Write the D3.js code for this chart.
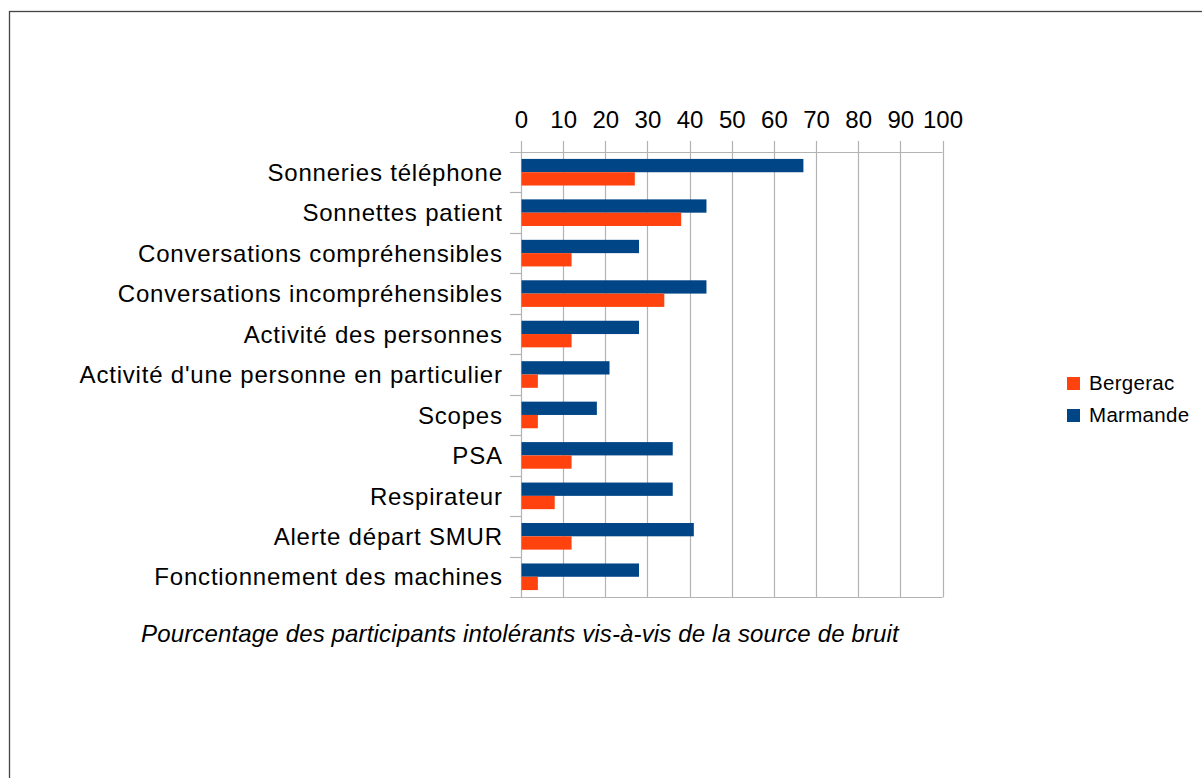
<!DOCTYPE html>
<html>
<head>
<meta charset="utf-8">
<script src="https://cdn.jsdelivr.net/npm/d3@7"></script>
<style>
  html, body { margin: 0; padding: 0; background: #fff; }
  svg { display: block; font-family: "Liberation Sans", Arial, sans-serif; }
</style>
</head>
<body>
<svg id="chart" width="1202" height="778"></svg>
<script>
const categories = [
  "Sonneries téléphone",
  "Sonnettes patient",
  "Conversations compréhensibles",
  "Conversations incompréhensibles",
  "Activité des personnes",
  "Activité d'une personne en particulier",
  "Scopes",
  "PSA",
  "Respirateur",
  "Alerte départ SMUR",
  "Fonctionnement des machines"
];
const marmande = [67, 44, 28, 44, 28, 21, 18, 36, 36, 41, 28];
const bergerac = [27, 38, 12, 34, 12, 4, 4, 12, 8, 12, 4];
const seriesNames = ["Marmande", "Bergerac"];
const legendNames = ["Bergerac", "Marmande"];
const tickValues = [0, 10, 20, 30, 40, 50, 60, 70, 80, 90, 100];
const subtitle = "Pourcentage des participants intolérants vis-à-vis de la source de bruit";

const colors = { "Marmande": "#004586", "Bergerac": "#ff420e" };
const gridColor = "#b3b3b3";

const svg = d3.select("#chart");

// outer frame
svg.append("rect")
  .attr("x", 9.5).attr("y", 11.5)
  .attr("width", 1250).attr("height", 900)
  .attr("fill", "none").attr("stroke", "#444").attr("stroke-width", 1.3);

const x = d3.scaleLinear().domain([0, 100]).range([521, 942.5]);
const y = d3.scaleBand().domain(categories).range([152, 597]).padding(0);
const ySub = d3.scaleBand().domain(seriesNames).range([0, y.bandwidth()])
  .paddingInner(0).paddingOuter(0.52);

const data = categories.map((c, i) => ({ cat: c, Marmande: marmande[i], Bergerac: bergerac[i] }));

// vertical gridlines (with tick extension above)
svg.append("g").selectAll("line").data(tickValues).join("line")
  .attr("x1", d => Math.round(x(d)) + 0.5).attr("x2", d => Math.round(x(d)) + 0.5)
  .attr("y1", 141).attr("y2", 597.5)
  .attr("stroke", gridColor).attr("stroke-width", 1.2);

// horizontal category boundary ticks + top/bottom lines
const boundaries = categories.map(c => y(c)).concat([y.range()[1]]);
svg.append("g").selectAll("line").data(boundaries).join("line")
  .attr("x1", 510).attr("x2", (d, i) => (i === 0 || i === boundaries.length - 1) ? 942.5 : 521)
  .attr("y1", d => Math.round(d) + 0.5).attr("y2", d => Math.round(d) + 0.5)
  .attr("stroke", gridColor).attr("stroke-width", 1.2);

// bars
const groups = svg.append("g").selectAll("g").data(data).join("g")
  .attr("transform", d => `translate(0,${y(d.cat)})`);
groups.selectAll("rect").data(d => seriesNames.map(s => ({ s, v: d[s] }))).join("rect")
  .attr("x", x(0) + 0.5)
  .attr("y", d => ySub(d.s))
  .attr("width", d => x(d.v) - x(0) - 0.5)
  .attr("height", ySub.bandwidth())
  .attr("fill", d => colors[d.s]);

// top axis tick labels
const xAxis = d3.axisTop(x).tickValues(tickValues).tickSize(0).tickPadding(0);
const gx = svg.append("g").attr("transform", "translate(0,128)").call(xAxis);
gx.select(".domain").remove();
gx.selectAll("text")
  .attr("dy", 0).attr("y", 0)
  .attr("font-family", "'Liberation Sans', Arial, sans-serif")
  .attr("font-size", 24).attr("fill", "#000");

// category labels
const yAxis = d3.axisLeft(y).tickSize(0).tickPadding(0);
const gy = svg.append("g").attr("transform", "translate(502.8,0)").call(yAxis);
gy.select(".domain").remove();
gy.selectAll("text")
  .attr("dy", "0.36em")
  .attr("font-family", "'Liberation Sans', Arial, sans-serif")
  .attr("font-size", 24).attr("letter-spacing", 0.8).attr("fill", "#000");

// subtitle
svg.append("text")
  .attr("x", 520).attr("y", 641.5)
  .attr("text-anchor", "middle")
  .attr("font-size", 24).attr("letter-spacing", 0.15)
  .attr("font-style", "italic").attr("fill", "#000")
  .text(subtitle);

// legend
const lg = svg.append("g").selectAll("g").data(legendNames).join("g")
  .attr("transform", (d, i) => `translate(1067,${377 + i * 32})`);
lg.append("rect").attr("width", 13).attr("height", 13).attr("fill", d => colors[d]);
lg.append("text").attr("x", 22).attr("y", 12.5)
  .attr("font-size", 20.5).attr("letter-spacing", 0.3).attr("fill", "#000").text(d => d);
</script>
</body>
</html>
